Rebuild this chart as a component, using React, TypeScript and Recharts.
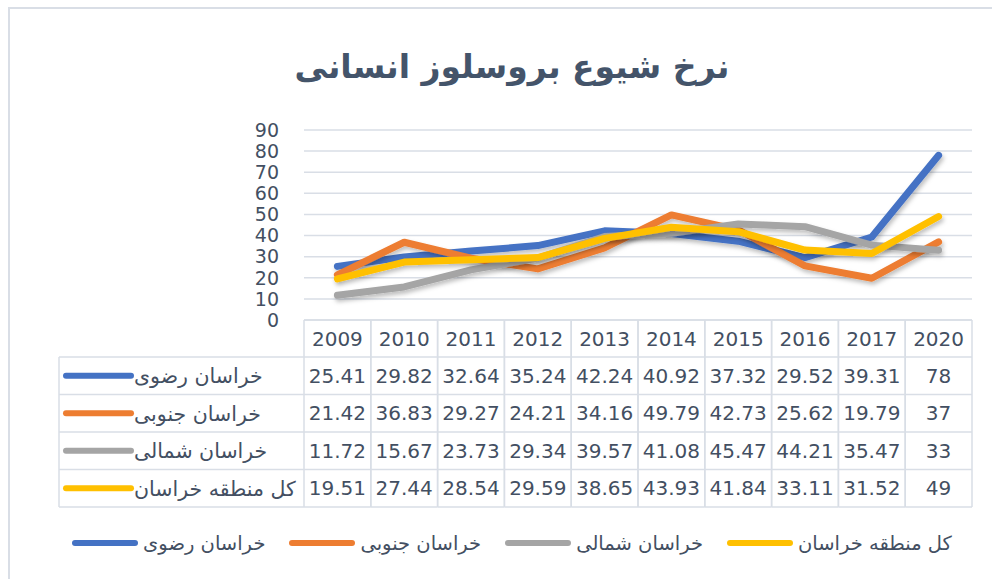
import React from 'react';
import { LineChart, Line, XAxis, YAxis, CartesianGrid } from 'recharts';

const years = ['2009', '2010', '2011', '2012', '2013', '2014', '2015', '2016', '2017', '2020'];
const razavi = [25.41, 29.82, 32.64, 35.24, 42.24, 40.92, 37.32, 29.52, 39.31, 78];
const jonubi = [21.42, 36.83, 29.27, 24.21, 34.16, 49.79, 42.73, 25.62, 19.79, 37];
const shomali = [11.72, 15.67, 23.73, 29.34, 39.57, 41.08, 45.47, 44.21, 35.47, 33];
const kol = [19.51, 27.44, 28.54, 29.59, 38.65, 43.93, 41.84, 33.11, 31.52, 49];
const yTicks = [0, 10, 20, 30, 40, 50, 60, 70, 80, 90];

const series = [
  { key: 'razavi', name: 'خراسان رضوی', color: '#4472C4', values: razavi },
  { key: 'jonubi', name: 'خراسان جنوبی', color: '#ED7D31', values: jonubi },
  { key: 'shomali', name: 'خراسان شمالی', color: '#A5A5A5', values: shomali },
  { key: 'kol', name: 'کل منطقه خراسان', color: '#FFC000', values: kol },
];

const data = years.map((y, i) => {
  const row: Record<string, any> = { year: y };
  series.forEach((s) => (row[s.key] = s.values[i]));
  return row;
});

const TITLE = 'نرخ شیوع بروسلوز انسانی';
const W = 992;
const H = 579;
const PLOT_LEFT = 304;
const PLOT_RIGHT = 972;
const PLOT_TOP = 130;
const PLOT_BOTTOM = 320;
const Y_AXIS_W = 60;
const BAND = (PLOT_RIGHT - PLOT_LEFT) / years.length;
const HEADER_H = 37;
const ROW_H = 37.5;
const TABLE_LEFT = 59;
const KEY_X1 = 66;
const KEY_X2 = 131;
const LABEL_X = 134;

const TEXT = '#434F62';
const BORDER = '#D9DEE6';
const FONT = '"DejaVu Sans", sans-serif';

const TableColumn = (props: any) => {
  const { x, y, payload } = props;
  const idx = payload.index;
  const half = BAND / 2;
  const bottom = y + HEADER_H + ROW_H * series.length;
  const els: React.ReactNode[] = [];
  els.push(<line key="vl" x1={x - half} x2={x - half} y1={y} y2={bottom} stroke={BORDER} strokeWidth={1.5} />);
  els.push(<line key="vr" x1={x + half} x2={x + half} y1={y} y2={bottom} stroke={BORDER} strokeWidth={1.5} />);
  els.push(<line key="ht" x1={x - half} x2={x + half} y1={y} y2={y} stroke={BORDER} strokeWidth={1.5} />);
  for (let r = 0; r <= series.length; r++) {
    const yy = y + HEADER_H + r * ROW_H;
    els.push(<line key={'h' + r} x1={x - half} x2={x + half} y1={yy} y2={yy} stroke={BORDER} strokeWidth={1.5} />);
  }
  els.push(
    <text key="yr" x={x} y={y + HEADER_H / 2} dy="0.36em" textAnchor="middle" fill={TEXT} fontSize={20} fontFamily={FONT}>
      {payload.value}
    </text>
  );
  series.forEach((s, r) => {
    els.push(
      <text key={'v' + r} x={x} y={y + HEADER_H + r * ROW_H + ROW_H / 2} dy="0.36em" textAnchor="middle" fill={TEXT} fontSize={20} fontFamily={FONT}>
        {String(data[idx][s.key])}
      </text>
    );
  });
  if (idx === 0) {
    const left = TABLE_LEFT;
    const right = x - half;
    els.push(<line key="ll" x1={left} x2={left} y1={y + HEADER_H} y2={bottom} stroke={BORDER} strokeWidth={1.5} />);
    for (let r = 0; r <= series.length; r++) {
      const yy = y + HEADER_H + r * ROW_H;
      els.push(<line key={'lh' + r} x1={left} x2={right} y1={yy} y2={yy} stroke={BORDER} strokeWidth={1.5} />);
    }
    series.forEach((s, r) => {
      const cy = y + HEADER_H + r * ROW_H + ROW_H / 2;
      els.push(<line key={'k' + r} x1={KEY_X1} x2={KEY_X2} y1={cy} y2={cy} stroke={s.color} strokeWidth={6} strokeLinecap="round" />);
      els.push(
        <text key={'l' + r} x={LABEL_X} y={cy} dy="0.36em" textAnchor="start" fill={TEXT} fontSize={20.5} fontFamily={FONT}>
          {s.name}
        </text>
      );
    });
  }
  return <g>{els}</g>;
};

export default function App() {
  return (
    <div style={{ position: 'absolute', left: 0, top: 0, width: W, height: H, overflow: 'hidden', background: '#fff' }}>
      <div style={{ position: 'absolute', left: 8, top: 7, width: 1100, height: 700, border: `2px solid ${BORDER}`, boxSizing: 'border-box' }} />
      <div
        style={{
          position: 'absolute',
          left: 32,
          top: 39,
          width: 960,
          textAlign: 'center',
          fontFamily: FONT,
          fontWeight: 'bold',
          fontSize: 33,
          color: '#44546A',
          lineHeight: '56px',
        }}
      >
        {TITLE}
      </div>
      <div style={{ position: 'absolute', left: 0, top: 0 }}>
        <LineChart
          width={W}
          height={H}
          data={data}
          margin={{ top: PLOT_TOP, right: W - PLOT_RIGHT, bottom: 0, left: PLOT_LEFT - Y_AXIS_W }}
        >
          <defs>
            <filter id="lineShadow" x="-10%" y="-10%" width="120%" height="140%">
              <feDropShadow dx="1.5" dy="3" stdDeviation="2" floodColor="#000" floodOpacity="0.25" />
            </filter>
          </defs>
          <CartesianGrid vertical={false} stroke={BORDER} strokeWidth={1.5} />
          <XAxis
            dataKey="year"
            interval={0}
            axisLine={false}
            tickLine={false}
            tickSize={0}
            tickMargin={0}
            height={H - PLOT_BOTTOM}
            padding={{ left: BAND / 2, right: BAND / 2 }}
            tick={(p: any) => <TableColumn {...p} />}
          />
          <YAxis
            width={Y_AXIS_W}
            domain={[0, 90]}
            ticks={yTicks}
            interval={0}
            axisLine={false}
            tickLine={false}
            tickSize={0}
            tickMargin={25}
            tick={{ fill: TEXT, fontSize: 19, fontFamily: FONT }}
          />
          {series.map((s) => (
            <Line
              key={s.key}
              type="linear"
              dataKey={s.key}
              name={s.name}
              stroke={s.color}
              strokeWidth={7}
              strokeLinecap="round"
              strokeLinejoin="round"
              dot={false}
              activeDot={false}
              filter="url(#lineShadow)"
              isAnimationActive={false}
            />
          ))}
        </LineChart>
      </div>
      <div
        style={{
          position: 'absolute',
          left: 0,
          top: 529,
          width: 1024,
          display: 'flex',
          justifyContent: 'center',
          alignItems: 'center',
          fontFamily: FONT,
          fontSize: 19.5,
          color: TEXT,
          height: 28,
        }}
      >
        {series.map((s) => (
          <div key={s.key} style={{ display: 'flex', alignItems: 'center', margin: '0 12px' }}>
            <span style={{ display: 'inline-block', width: 66, height: 6, borderRadius: 3, background: s.color, marginRight: 5 }} />
            <span>{s.name}</span>
          </div>
        ))}
      </div>
    </div>
  );
}
